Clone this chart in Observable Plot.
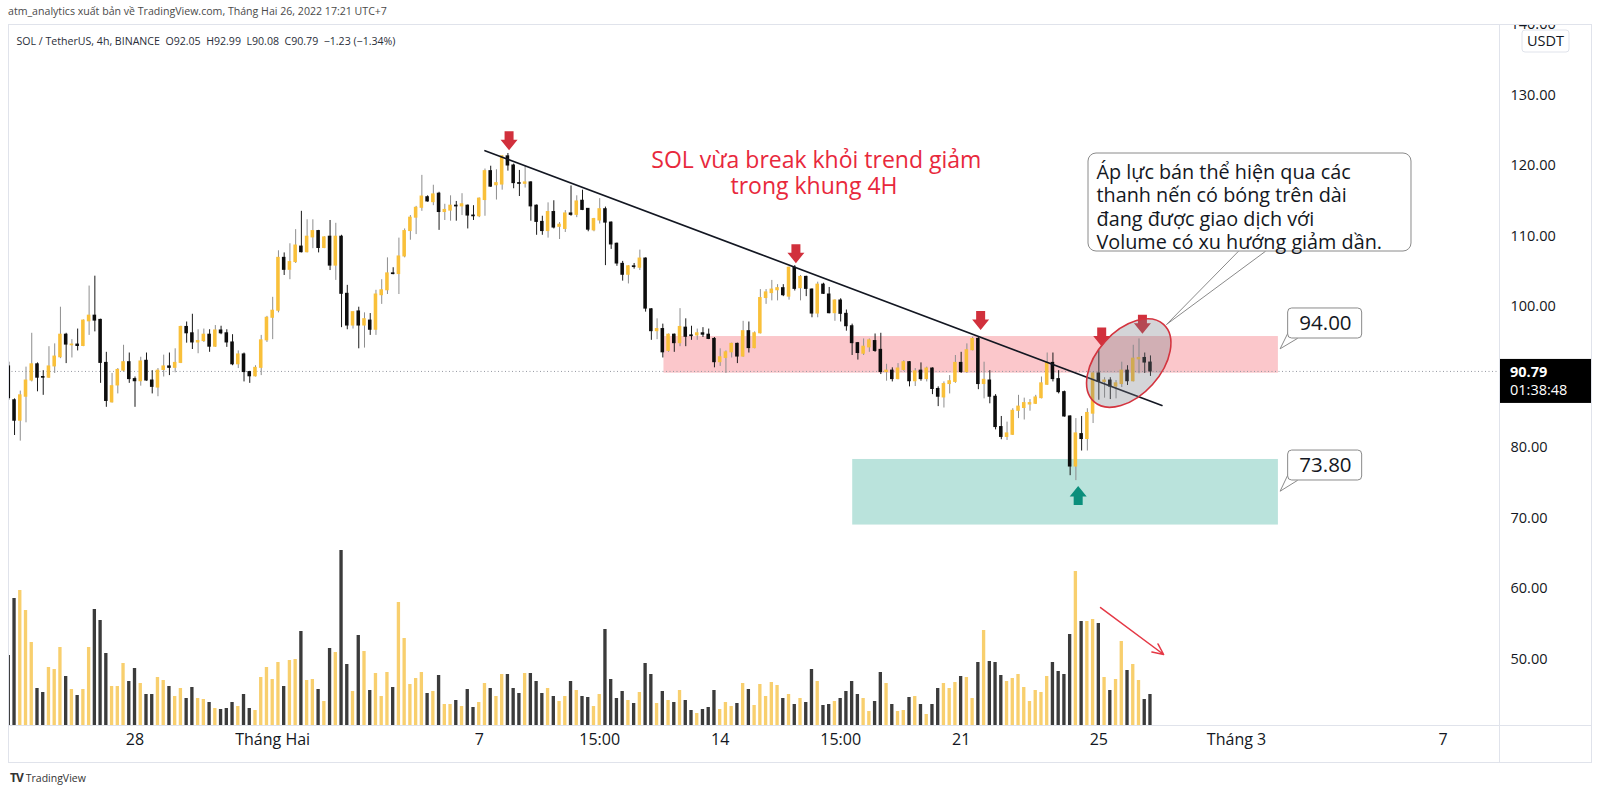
<!DOCTYPE html>
<html><head><meta charset="utf-8">
<script src="https://cdn.jsdelivr.net/npm/d3@7"></script>
<script src="https://cdn.jsdelivr.net/npm/@observablehq/plot@0.6"></script>
<style>
html,body{margin:0;padding:0;background:#fff;overflow:hidden;width:1600px;height:794px;font-family:"Open Sans",sans-serif;}
#header{position:absolute;left:8px;top:4px;font-size:10.6px;color:#4a4a4a;white-space:nowrap;}
#chart{position:absolute;left:0;top:24px;width:1600px;height:740px;}
#chart svg{position:absolute;left:0;top:0;}
#footer{position:absolute;left:10px;top:769px;font-size:10.5px;color:#333;white-space:nowrap;}
#footer b{font-size:12px;letter-spacing:-1px;margin-right:3px;}
</style></head><body>
<div id="header">atm_analytics xuất bản về TradingView.com, Tháng Hai 26, 2022 17:21 UTC+7</div>
<div id="chart"></div>
<div id="footer"><b>TV</b>TradingView</div>
<script>
// ---- data (4h candles, SOL/USDT, Binance) ----
const opens = [91.5,86.7,83.8,87.2,89.5,91.8,90.0,89.9,91.5,92.8,
96.0,94.5,94.6,94.4,97.9,98.7,98.1,92.0,86.4,88.8,
90.9,92.1,89.7,89.4,92.3,89.5,88.5,91.0,91.5,91.3,
92.0,97.1,96.2,94.9,95.1,96.0,94.3,96.6,96.2,94.9,
91.8,93.2,90.7,90.1,91.3,95.2,98.4,99.4,106.9,105.2,
106.3,108.5,107.7,109.8,110.7,108.3,109.9,105.8,109.9,101.8,
97.3,99.3,97.3,98.0,96.7,101.6,102.3,104.7,104.6,107.1,
110.7,112.6,114.0,115.5,114.8,116.0,113.4,113.6,114.3,114.2,
114.3,112.9,112.8,115.1,119.2,117.2,117.3,121.3,120.0,117.5,
117.4,117.6,114.3,112.0,110.7,113.4,111.3,111.0,113.2,113.0,
115.0,113.85,110.8,112.2,113.8,111.9,108.9,106.05,104.5,105.7,
105.5,106.8,99.6,96.5,96.8,93.7,96.0,94.8,97.0,95.9,
95.9,96.2,96.0,95.4,92.1,92.7,93.5,94.7,92.9,96.5,
94.1,96.2,101.2,101.9,102.3,102.6,101.4,105.5,102.6,104.2,
102.4,99.0,103.1,101.7,99.05,100.85,98.96,97.2,94.8,93.3,
94.2,95.1,93.85,90.7,90.9,89.7,91.0,92.1,89.4,90.9,
89.7,91.2,88.3,87.1,89.0,89.3,92.0,90.7,93.8,95.4,
89.0,89.5,87.2,82.9,81.5,81.8,85.2,85.6,86.1,86.2,
87.0,88.9,92.0,89.7,87.85,84.4,77.3,81.9,81.2,84.8,
90.5,89.3,89.5,88.65,89.0,90.9,89.4,92.5,92.7,92.05];
const highs = [92.1,86.9,88.0,91.4,96.2,92.0,90.9,94.3,94.7,99.9,
96.2,95.3,96.8,98.1,102.9,104.3,98.2,93.5,90.5,91.2,
94.5,93.4,90.0,92.8,93.4,90.9,91.2,93.1,93.4,94.0,
97.2,97.8,98.9,96.7,96.8,96.7,97.3,97.2,96.7,96.0,
93.7,93.4,90.8,91.6,95.9,98.6,101.3,107.9,107.6,108.9,
110.9,113.5,112.3,112.3,110.8,109.9,112.2,111.8,110.1,103.0,
99.2,99.9,99.1,99.0,102.3,103.8,106.9,105.5,109.7,111.0,
112.9,114.2,118.6,115.7,117.2,116.2,114.5,115.7,114.9,116.0,
114.4,114.3,115.4,119.5,119.9,119.4,121.4,121.7,120.2,119.3,
119.9,117.7,114.4,112.8,114.7,115.0,111.9,113.6,117.1,115.7,
116.5,113.9,112.5,115.3,114.1,112.0,109.0,106.4,105.8,106.1,
108.0,106.9,99.7,98.25,97.5,96.1,96.1,99.7,98.25,97.2,
96.8,97.0,96.8,95.6,94.0,93.7,94.8,94.8,97.9,97.8,
96.4,102.4,102.4,103.7,103.1,103.1,105.6,105.8,104.4,104.3,
102.5,103.45,103.3,102.7,100.95,101.1,99.5,97.5,94.9,95.4,
95.4,96.1,96.2,91.8,91.3,91.9,92.3,92.2,91.2,92.0,
91.4,91.3,88.6,89.3,90.2,93.05,93.5,94.7,95.65,95.65,
92.1,90.9,87.5,84.4,83.6,85.5,87.4,87.0,86.8,87.4,
90.0,93.4,93.4,90.9,88.0,84.5,84.1,84.4,85.5,90.7,
93.8,89.9,89.9,89.5,92.1,91.6,94.5,95.4,93.4,92.99];
const lows = [86.7,81.7,80.9,83.5,89.3,87.9,87.4,89.8,90.5,92.6,
91.9,92.7,93.7,94.3,95.9,96.4,89.1,85.7,86.3,87.6,
90.7,89.1,85.7,88.7,89.4,87.6,87.2,90.0,90.2,90.6,
91.9,94.8,93.9,93.3,94.9,93.5,94.2,96.0,94.2,91.6,
91.2,89.3,89.1,90.0,90.2,94.9,95.3,99.1,104.4,103.8,
106.1,107.6,107.6,108.2,107.6,108.2,105.1,103.7,97.0,96.7,
96.8,94.0,94.1,95.9,95.9,100.3,101.7,104.5,101.7,106.9,
109.4,110.2,113.5,114.8,114.3,110.8,112.2,112.1,112.1,112.9,
111.0,112.2,112.6,112.8,116.9,115.1,116.5,119.2,116.7,115.6,
116.8,112.1,110.1,110.1,109.7,111.0,109.5,110.5,112.8,112.6,
113.6,110.6,110.6,111.7,105.8,108.1,105.7,103.6,103.2,105.3,
105.1,99.2,95.2,95.3,92.7,93.5,93.5,94.3,94.3,95.2,
95.2,95.6,95.3,91.3,91.5,90.5,92.7,91.9,92.8,93.4,
94.0,96.1,100.3,100.8,100.8,101.4,100.9,102.2,100.8,101.4,
98.4,98.4,101.7,98.96,97.9,97.8,96.5,93.05,92.4,93.05,
93.5,93.5,90.35,89.4,89.3,89.6,90.8,88.6,88.65,89.4,
89.3,87.5,85.8,85.6,87.6,89.1,90.5,90.5,93.7,88.2,
86.9,86.2,82.5,81.1,81.0,81.7,84.1,83.9,85.15,86.1,
86.9,88.8,89.3,87.6,84.3,76.0,75.3,79.5,79.5,83.4,
86.7,87.0,86.8,86.9,88.5,88.8,89.3,90.45,90.5,90.08];
const closes = [87.0,83.8,87.4,89.5,91.8,89.9,89.9,91.5,92.9,96.0,
94.6,94.6,94.4,98.0,98.7,98.0,92.0,86.6,88.7,91.0,
92.1,89.7,89.4,92.2,89.5,88.6,90.9,91.5,91.3,92.0,
97.1,96.2,94.9,95.1,96.0,94.3,96.6,96.2,94.9,91.8,
93.2,90.7,90.1,91.3,95.2,98.4,99.4,106.9,105.2,106.3,
108.65,107.7,109.9,110.7,108.3,109.8,105.8,109.9,101.8,97.3,
99.2,97.3,98.2,96.7,101.7,102.3,104.7,104.6,107.1,110.7,
112.6,114.0,115.6,114.9,115.9,113.4,113.7,114.3,114.2,114.5,
112.9,112.8,115.3,119.2,117.0,117.5,121.3,120.0,117.5,117.4,
117.6,114.2,112.0,110.7,113.4,111.2,111.6,113.2,113.0,114.9,
113.7,110.9,112.4,113.8,111.9,108.8,106.1,104.5,105.7,105.6,
106.8,99.7,96.5,96.8,93.5,96.0,94.8,97.1,95.7,95.8,
96.2,96.0,95.4,92.1,92.8,93.5,94.7,92.9,96.5,94.1,
96.2,101.2,102.0,102.4,102.6,101.6,105.5,102.5,104.2,102.5,
99.0,103.1,101.8,99.05,100.85,98.96,97.2,94.8,93.4,94.3,
95.2,93.7,90.7,90.9,89.7,91.2,92.1,89.4,90.8,89.7,
91.2,88.3,87.2,89.0,89.4,92.0,90.7,93.8,95.4,89.0,
89.6,87.2,82.9,81.5,82.0,85.2,85.8,86.3,86.3,87.1,
89.1,92.0,89.7,87.85,84.4,77.3,82.0,81.2,84.9,90.5,
89.3,89.5,88.65,89.1,90.9,89.4,92.6,92.7,92.05,90.79];
const volumes = [70,127,135,115,83,37,33,58,56,78,
49,36,30,36,78,116,105,72,39,39,
62,44,57,42,31,31,48,45,39,29,
37,27,38,27,26,23,17,16,17,23,
19,31,17,15,48,58,46,63,39,65,
66,94,45,46,36,24,77,73,175,61,
34,90,74,35,52,29,53,38,123,87,
41,47,53,32,34,50,21,21,25,19,
36,18,23,42,37,29,51,51,37,32,
52,52,44,32,37,29,24,29,44,35,
29,28,19,31,96,46,27,34,25,22,
33,62,51,22,34,25,23,35,25,15,
12,16,18,35,16,23,19,22,42,36,
20,41,29,43,40,27,31,21,27,23,
56,44,20,21,24,27,34,44,31,27,
14,24,53,42,21,14,15,28,29,21,
11,21,37,42,37,43,49,48,27,63,
95,64,63,50,44,47,51,38,24,35,
33,49,63,54,51,91,154,104,104,106,
102,48,35,46,84,55,61,45,26,31];

const lastPrice = 90.79;
const countdown = "01:38:48";
const legendText = "SOL / TetherUS, 4h, BINANCE  O92.05  H92.99  L90.08  C90.79  −1.23 (−1.34%)";

// x axis ticks (bar index) and labels
const xTickIndex = [22, 46, 82, 103, 124, 145, 166, 190, 214, 250];
const xTickLabels = ["28", "Tháng Hai", "7", "15:00", "14", "15:00", "21", "25", "Tháng 3", "7"];
// price axis ticks (90.00 sits under the last-price badge)
const yTicks = [140, 130, 120, 110, 100, 80, 70, 60, 50];

// drawings (bar index / price anchors)
const resistanceZone = {i1: 114.2, i2: 221.3, p1: 90.54, p2: 95.74};
const supportZone = {i1: 147.1, i2: 221.3, p1: 69.0, p2: 78.3};
const trendIdx = [83.0, 201.0];
const trendPrice = [122.1, 85.96];
const arrowIdx = [87.2, 137.2, 169.4, 190.5, 197.6, 186.4];
const arrowPrice = [123.5, 107.5, 98.0, 95.67, 97.5, 73.2];
const arrowDir = ["down", "down", "down", "down", "down", "up"];
const titleLines = ["SOL vừa break khỏi trend giảm", "trong khung 4H"];
const titleIdx = [112.0, 125.8];
const titlePrice = [120.68, 117.02];
const calloutText = "Áp lực bán thể hiện qua các\nthanh nến có bóng trên dài\nđang được giao dịch với\nVolume có xu hướng giảm dần.";
const calloutBox = {i1: 188.2, i2: 244.5, p1: 107.8, p2: 121.7, ti: 189.6, tp: 114.18};
const calloutTail = [[214.3, 107.8], [201.8, 97.45], [219.0, 107.8]];
const levelLabels = ["94.00", "73.80"];
const levelBoxes = [{i1: 223.0, i2: 235.9, p1: 95.46, p2: 99.72, ti: 229.5, tp: 97.59},
                    {i1: 223.0, i2: 235.9, p1: 75.32, p2: 79.57, ti: 229.5, tp: 77.45}];
const levelTails = [[[223.0, 96.3], [221.6, 94.0], [224.6, 95.46]],
                    [[223.0, 76.2], [221.6, 73.8], [224.6, 75.32]]];
const ellipseCenter = {i: 195.3, p: 91.91};
const volArrow = {i1: 190.3, p1: 57.3, i2: 201.3, p2: 50.64};

// ---- build ----
const candles = opens.map((o, i) => ({i, open: o, high: highs[i], low: lows[i], close: closes[i], volume: volumes[i]}));
const UP = "#f9c03a", DOWN = "#0d0d0d";
const isUp = d => d.close >= d.open;
const X = {type: "linear", domain: [0, 199], range: [8.3, 8.3 + 199 * 5.737], axis: null};
const FONT = '"Open Sans", sans-serif';
const common = {width: 1600, height: 740, marginLeft: 8, marginRight: 101, marginTop: 0, marginBottom: 39};

const arrowDown = {draw(ctx, size) { const k = Math.sqrt(size / Math.PI) / 9.5;
  ctx.moveTo(-4.5*k, -9.5*k); ctx.lineTo(4.5*k, -9.5*k); ctx.lineTo(4.5*k, -1*k); ctx.lineTo(8.5*k, -1*k);
  ctx.lineTo(0, 9.5*k); ctx.lineTo(-8.5*k, -1*k); ctx.lineTo(-4.5*k, -1*k); ctx.closePath(); }};
const arrowUp = {draw(ctx, size) { const k = Math.sqrt(size / Math.PI) / 9.5;
  ctx.moveTo(-4.5*k, 9.5*k); ctx.lineTo(4.5*k, 9.5*k); ctx.lineTo(4.5*k, 1*k); ctx.lineTo(8.5*k, 1*k);
  ctx.lineTo(0, -9.5*k); ctx.lineTo(-8.5*k, 1*k); ctx.lineTo(-4.5*k, 1*k); ctx.closePath(); }};
const arrows = arrowIdx.map((i, k) => ({i, p: arrowPrice[k], dir: arrowDir[k]}));
const trend = trendIdx.map((i, k) => ({i, p: trendPrice[k]}));
const ticksX = xTickIndex.map((i, k) => ({i, label: xTickLabels[k]}));
const zones = [{...resistanceZone, fill: "rgba(242,54,69,0.28)"}, {...supportZone, fill: "rgba(8,153,129,0.28)"}];
const titles = titleLines.map((t, k) => ({t, i: titleIdx[k], p: titlePrice[k]}));
const labels = levelLabels.map((t, k) => ({t, ...levelBoxes[k]}));
const tails = [calloutTail, ...levelTails].flatMap((pts, g) => pts.map(([i, p]) => ({g, i, p})));

const vol = Plot.plot({...common,
  x: X, y: {type: "linear", domain: [0, 175], range: [701, 526], axis: null},
  color: {type: "identity"},
  style: {background: "transparent"},
  marks: [
    Plot.rect(candles, {x1: d => d.i - 0.29, x2: d => d.i + 0.29, y1: 0, y2: "volume",
      fill: d => isUp(d) ? "#f8cf6e" : "#3b3b3b", clip: true})
  ]
});

const main = Plot.plot({...common,
  x: X, y: {type: "linear", domain: [40, 140], range: [705, 0], axis: null},
  color: {type: "identity"},
  style: {background: "transparent", fontFamily: FONT, fontSize: "14px", color: "#131722"},
  marks: [
    Plot.rect(zones, {x1: "i1", x2: "i2", y1: "p1", y2: "p2", fill: "fill"}),
    Plot.ruleY([lastPrice], {stroke: "#9598a1", strokeDasharray: "1,2.5", strokeWidth: 1}),
    Plot.ruleX(candles, {x: "i", y1: "low", y2: "high", stroke: d => isUp(d) ? "#8e8e8e" : "#1a1a1a", strokeWidth: 1, clip: true}),
    Plot.rect(candles, {x1: d => d.i - 0.31, x2: d => d.i + 0.31, y1: "open", y2: "close",
      fill: d => isUp(d) ? UP : DOWN, insetTop: -0.5, insetBottom: -0.5, clip: true}),
    Plot.line(trend, {x: "i", y: "p", stroke: "#131722", strokeWidth: 1.6}),
    Plot.dot(arrows.filter(d => d.dir === "down"), {x: "i", y: "p", r: 9.5, symbol: arrowDown, fill: "#d1303c", stroke: null}),
    Plot.dot(arrows.filter(d => d.dir === "up"), {x: "i", y: "p", r: 9.5, symbol: arrowUp, fill: "#0b8f7c", stroke: null}),
    Plot.text(titles, {x: "i", y: "p", text: "t", textAnchor: "start", fill: "#e8283c", fontSize: 23, fontWeight: 500}),
    Plot.line(tails, {x: "i", y: "p", z: "g", stroke: "#8a8a8a", strokeWidth: 1, fill: "white"}),
    Plot.rect([calloutBox], {x1: "i1", x2: "i2", y1: "p1", y2: "p2", fill: "white", stroke: "#8a8a8a", strokeWidth: 1, rx: 8}),
    Plot.text([calloutBox], {x: "ti", y: "tp", text: () => calloutText, textAnchor: "start", lineHeight: 1.17, fontSize: 19.8, fill: "#131722"}),
    Plot.rect(labels, {x1: "i1", x2: "i2", y1: "p1", y2: "p2", fill: "white", stroke: "#8a8a8a", strokeWidth: 1, rx: 4}),
    Plot.text(labels, {x: "ti", y: "tp", text: "t", fontSize: 20.5, fill: "#131722"}),
    Plot.arrow([volArrow], {x1: "i1", y1: "p1", x2: "i2", y2: "p2", stroke: "#e53946", strokeWidth: 1.5, headLength: 12, headAngle: 50}),
    Plot.text(ticksX, {x: "i", text: "label", frameAnchor: "bottom", dy: 19, fontSize: 16, fill: "#131722"}),
    Plot.text(yTicks, {y: d => d, text: d => d.toFixed(2), frameAnchor: "right", textAnchor: "start", dx: 11, fontSize: 14.5, fill: "#131722"}),
    Plot.text([legendText], {frameAnchor: "top-left", dx: 8, dy: 13, textAnchor: "start", fontSize: 10.6, fill: "#2a2e39"})
  ]
});

const chart = document.getElementById("chart");
chart.appendChild(vol);
chart.appendChild(main);

// overlay decorations using Plot's scales
const svg = d3.select(main);
const sx = main.scale("x"), sy = main.scale("y");
const ex = sx.apply(ellipseCenter.i), ey = sy.apply(ellipseCenter.p);
svg.append("ellipse").attr("cx", ex).attr("cy", ey).attr("rx", 52).attr("ry", 32)
  .attr("transform", `rotate(-48 ${ex} ${ey})`)
  .attr("fill", "rgba(120,123,134,0.32)").attr("stroke", "#d4343f").attr("stroke-width", 1.6);

const g = svg.append("g").attr("text-anchor", "start");
g.append("rect").attr("x", 8.5).attr("y", 0.5).attr("width", 1583).attr("height", 738)
  .attr("fill", "none").attr("stroke", "#e0e3eb");
g.append("line").attr("x1", 1499.5).attr("x2", 1499.5).attr("y1", 0).attr("y2", 739).attr("stroke", "#e0e3eb");
g.append("line").attr("x1", 8).attr("x2", 1592).attr("y1", 701.5).attr("y2", 701.5).attr("stroke", "#e0e3eb");

// USDT badge
g.append("rect").attr("x", 1522).attr("y", 6).attr("width", 47).attr("height", 22).attr("rx", 3)
  .attr("fill", "white").attr("stroke", "#e0e3eb");
g.append("text").attr("x", 1545.5).attr("y", 17).attr("dy", "0.35em").attr("text-anchor", "middle")
  .attr("font-size", 14.5).attr("fill", "#131722").text("USDT");

// last price badge
const py = sy.apply(lastPrice);
g.append("rect").attr("x", 1500).attr("y", py - 12).attr("width", 91).attr("height", 44).attr("fill", "#000");
g.append("text").attr("x", 1510).attr("y", py + 1).attr("dy", "0.35em").attr("text-anchor", "start").attr("font-size", 14.5)
  .attr("font-weight", 700).attr("fill", "white").text(lastPrice.toFixed(2));
g.append("text").attr("x", 1510).attr("y", py + 19).attr("dy", "0.35em").attr("text-anchor", "start").attr("font-size", 14.5)
  .attr("fill", "white").text(countdown);
</script></body></html>
